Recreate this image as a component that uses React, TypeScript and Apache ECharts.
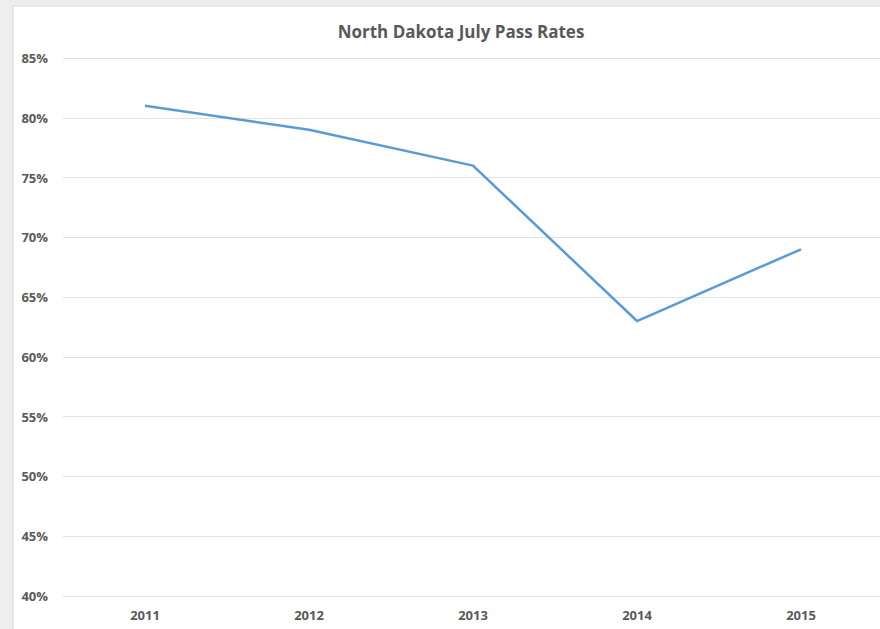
import React, { useEffect, useRef } from "react";
import * as echarts from "echarts";

const years = ["2011", "2012", "2013", "2014", "2015"];
const passRates = [81, 79, 76, 63, 69];
const yMin = 40;
const yMax = 85;
const yStep = 5;

export default function App() {
  const ref = useRef<HTMLDivElement>(null);
  useEffect(() => {
    if (!ref.current) return;
    const chart = echarts.init(ref.current, null, { renderer: "svg" });
    chart.setOption({
      animation: false,
      backgroundColor: "#eeeeee",
      graphic: [
        {
          type: "rect",
          shape: { x: 13, y: 6, width: 880, height: 640 },
          style: { fill: "#ffffff", stroke: "#dcdcdc", lineWidth: 1 },
          z: -10,
        },
      ],
      title: {
        text: "North Dakota July Pass Rates",
        left: 456,
        top: 18,
        textAlign: "center",
        textStyle: {
          fontFamily: "Open Sans",
          fontWeight: "bold",
          fontSize: 17,
          color: "#595959",
        },
      },
      grid: {
        left: 63,
        width: 820,
        top: 58,
        height: 538,
        containLabel: false,
        outerBoundsMode: "none",
      },
      xAxis: {
        type: "category",
        data: years,
        boundaryGap: true,
        axisLine: { show: false },
        axisTick: { show: false },
        axisLabel: {
          margin: 12,
          fontFamily: "Open Sans",
          fontWeight: "bold",
          fontSize: 13,
          color: "#595959",
        },
      },
      yAxis: {
        type: "value",
        min: yMin,
        max: yMax,
        interval: yStep,
        axisLine: { show: false },
        axisTick: { show: false },
        splitLine: { lineStyle: { color: "#e3e3e3", width: 1 } },
        axisLabel: {
          formatter: "{value}%",
          margin: 15,
          fontFamily: "Open Sans",
          fontWeight: "bold",
          fontSize: 13,
          color: "#595959",
        },
      },
      series: [
        {
          type: "line",
          data: passRates,
          symbol: "none",
          lineStyle: { color: "#5b9bd5", width: 2.5 },
        },
      ],
    });
    return () => chart.dispose();
  }, []);
  return (
    <div
      ref={ref}
      style={{ position: "fixed", left: 0, top: 0, width: 880, height: 629 }}
    />
  );
}
